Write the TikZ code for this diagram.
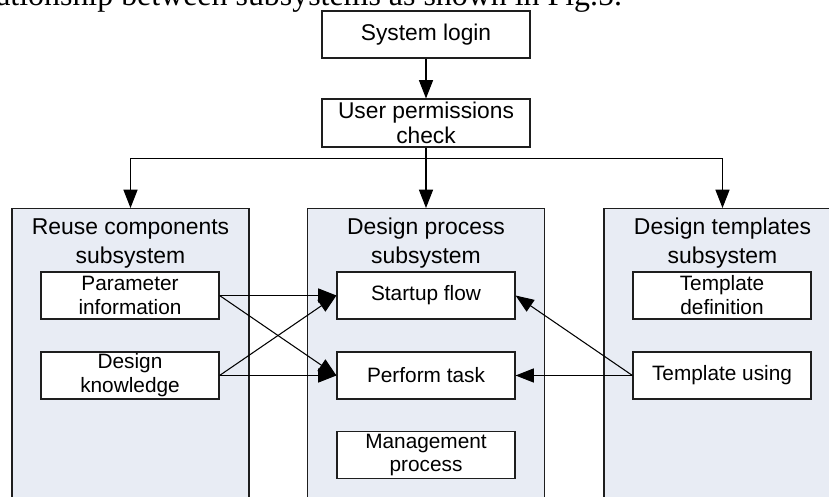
\documentclass[tikz,border=0pt]{standalone}
\usepackage{fontspec}
\setmainfont{Liberation Sans}
\newfontfamily\bodyserif{Liberation Serif}
\usepackage{tikz}
\usetikzlibrary{positioning, arrows.meta}
\definecolor{PanelFill}{HTML}{E8ECF4}
\definecolor{EdgeGray}{HTML}{1E1E1E}

\begin{document}
\begin{tikzpicture}[
    topbox/.style={draw=EdgeGray, line width=0.8pt, fill=white, minimum width=5.2cm, minimum height=1.175cm,
      inner sep=0pt, align=center, font=\fontsize{16.2}{17.8}\selectfont},
    panel/.style={draw=EdgeGray, line width=0.8pt, fill=PanelFill, minimum width=5.925cm, minimum height=7.6cm,
      anchor=north, inner sep=0pt},
    paneltitle/.style={anchor=north, inner sep=0pt, align=center, font=\fontsize{16.3}{20.6}\selectfont},
    itembox/.style={draw=EdgeGray, line width=0.8pt, fill=white, minimum width=4.45cm, minimum height=1.175cm,
      inner sep=0pt, align=center, font=\fontsize{14.8}{17}\selectfont},
    arr/.style={-{Triangle[length=13pt, width=10pt]}, line width=0.75pt, draw=black},
  ]
  \useasboundingbox (0,0) rectangle (20.725,-12.425);
  \clip (0,0) rectangle (20.725,-12.425);

  % Running text above the figure
  \node[anchor=base west, inner sep=0pt, font=\bodyserif\fontsize{22.7}{26}\selectfont] (prose) at (-0.1,-0.15)
    {ationship between subsystems as shown in Fig.5.};

  % Entry steps
  \node[topbox] (login) at (10.65,-0.8625) {System login};
  \node[topbox, minimum height=1.2cm] (check) at (10.65,-3.075) {User permissions\\check};

  % Subsystem panels
  \node[panel] (reuse) at (3.2625,-5.2) {};
  \node[panel] (process) at (10.65,-5.2) {};
  \node[panel] (templ) at (18.0625,-5.2) {};

  \node[paneltitle] (reusetitle) at (3.2625,-5.45) {Reuse components\\subsystem};
  \node[paneltitle] (processtitle) at (10.65,-5.45) {Design process\\subsystem};
  \node[paneltitle] (templtitle) at (18.0625,-5.45) {Design templates\\subsystem};

  % Items in each panel
  \node[itembox] (param) at (3.25,-7.3875) {Parameter\\information};
  \node[itembox] (design) at (3.25,-9.3875) {Design\\knowledge};

  \node[itembox] (startup) at (10.65,-7.3875) {Startup flow};
  \node[itembox] (perform) at (10.65,-9.3875) {Perform task};
  \node[itembox] (manage) at (10.65,-11.375) {Management\\process};

  \node[itembox] (tdef) at (18.05,-7.3875) {Template\\definition};
  \node[itembox] (tuse) at (18.05,-9.3875) {Template using};

  % Login flow and branching to the panels
  \draw[arr] (login) -- (check);
  \draw[arr] (check.south) -- (process.north);
  \draw[arr] (check.south) -- ++(0,-0.275) -| (reuse.north);
  \draw[arr] (check.south) -- ++(0,-0.275) -| (templ.north);

  % Links between items
  \draw[arr] (param.east) -- (startup.west);
  \draw[arr] (param.east) -- (perform.west);
  \draw[arr] (design.east) -- (startup.west);
  \draw[arr] (design.east) -- (perform.west);
  \draw[arr] (tuse.west) -- (perform.east);
  \draw[arr] (tuse.west) -- (startup.east);
\end{tikzpicture}
\end{document}
